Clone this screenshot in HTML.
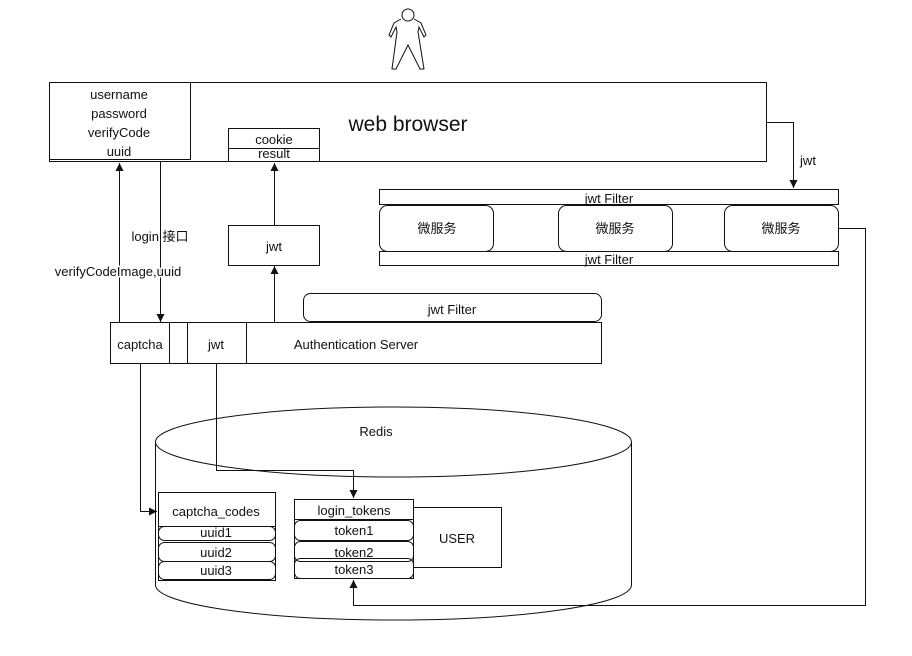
<!DOCTYPE html>
<html><head><meta charset="utf-8"><style>
body{margin:0;background:#fff;}
svg{display:block;}
text{font-family:"Liberation Sans","Noto Sans CJK SC",sans-serif;fill:#111;font-size:13px;}
</style></head><body>
<svg width="912" height="656" viewBox="0 0 912 656" xmlns="http://www.w3.org/2000/svg">
<defs>
<marker id="ar" viewBox="0 0 10 10" refX="10" refY="5" markerWidth="8" markerHeight="8" orient="auto" markerUnits="userSpaceOnUse"><path d="M0,0 L10,5 L0,10 z" fill="#111"/></marker></defs>
<g fill="none" stroke="#111" stroke-width="1">
<!-- person -->
<circle cx="408" cy="15" r="6"/>
<path d="M401,19 L394,23 L389,35 L391,37 L396,27 L397,32 L392,69 L396,69 L408,45 L420,69 L424,69 L418,32 L419,27 L424,37 L426,35 L421,23 L414,19"/>
<!-- browser -->
<rect x="49.5" y="82.5" width="717" height="79"/>
<rect x="49.5" y="82.5" width="141" height="77"/>
<rect x="228.5" y="128.5" width="91" height="33"/>
<line x1="228" y1="148.5" x2="320" y2="148.5"/>
<!-- arrows left -->
<line x1="119.5" y1="322" x2="119.5" y2="163" marker-end="url(#ar)"/>
<line x1="160.5" y1="162" x2="160.5" y2="322" marker-end="url(#ar)"/>
<rect x="228.5" y="225.5" width="91" height="40"/>
<line x1="274.5" y1="322" x2="274.5" y2="266" marker-end="url(#ar)"/>
<line x1="274.5" y1="225" x2="274.5" y2="163" marker-end="url(#ar)"/>
<!-- auth server -->
<rect x="303.5" y="293.5" width="298" height="28" rx="7"/>
<rect x="110.5" y="322.5" width="491" height="41"/>
<line x1="169.5" y1="322" x2="169.5" y2="364"/>
<line x1="187.5" y1="322" x2="187.5" y2="364"/>
<line x1="246.5" y1="322" x2="246.5" y2="364"/>
<!-- microservices -->
<rect x="379.5" y="189.5" width="459" height="15"/>
<rect x="379.5" y="251.5" width="459" height="14"/>
<rect x="379.5" y="205.5" width="114" height="46" rx="8"/>
<rect x="558.5" y="205.5" width="114" height="46" rx="8"/>
<rect x="724.5" y="205.5" width="114" height="46" rx="8"/>
<polyline points="767,122.5 793.5,122.5 793.5,188" marker-end="url(#ar)"/>
<polyline points="838,228.5 865.5,228.5 865.5,605.5 353.5,605.5 353.5,580" marker-end="url(#ar)"/>
<!-- redis -->
<path d="M155.5,442 L155.5,585 A238,35 0 0 0 631.5,585 L631.5,442"/>
<ellipse cx="393.5" cy="442" rx="238" ry="35"/>
<polyline points="140.5,364 140.5,511.5 157,511.5" marker-end="url(#ar)"/>
<polyline points="216.5,364 216.5,470.5 353.5,470.5 353.5,498" marker-end="url(#ar)"/>
<rect x="158.5" y="492.5" width="117" height="88" fill="#fff"/>
<line x1="158" y1="526.5" x2="275" y2="526.5"/>
<rect x="158.5" y="526.5" width="117" height="14" rx="6"/>
<rect x="158.5" y="542.5" width="117" height="19" rx="6"/>
<rect x="158.5" y="561.5" width="117" height="18" rx="6"/>
<rect x="413.5" y="507.5" width="88" height="60"/>
<rect x="294.5" y="499.5" width="119" height="79" fill="#fff"/>
<line x1="294" y1="519.5" x2="413" y2="519.5"/>
<rect x="294.5" y="520.5" width="119" height="20" rx="6"/>
<rect x="294.5" y="541.5" width="119" height="20" rx="6"/>
<rect x="294.5" y="558.5" width="119" height="20" rx="6"/>
</g>
<g text-anchor="middle">
<text x="119" y="99">username</text>
<text x="119" y="118">password</text>
<text x="119" y="137">verifyCode</text>
<text x="119" y="156">uuid</text>
<text x="408" y="131" style="font-size:21px">web browser</text>
<text x="274" y="144">cookie</text>
<text x="274" y="158">result</text>
<text x="160" y="241" style="paint-order:stroke" stroke="#fff" stroke-width="3">login 接口</text>
<text x="118" y="276" style="paint-order:stroke" stroke="#fff" stroke-width="3">verifyCodeImage,uuid</text>
<text x="274" y="251">jwt</text>
<text x="452" y="314">jwt Filter</text>
<text x="140" y="349">captcha</text>
<text x="216" y="349">jwt</text>
<text x="356" y="349">Authentication Server</text>
<text x="609" y="203">jwt Filter</text>
<text x="609" y="264">jwt Filter</text>
<text x="437" y="233">微服务</text>
<text x="615" y="233">微服务</text>
<text x="781" y="233">微服务</text>
<text x="808" y="165">jwt</text>
<text x="376" y="436">Redis</text>
<text x="216" y="516">captcha_codes</text>
<text x="216" y="537">uuid1</text>
<text x="216" y="557">uuid2</text>
<text x="216" y="575">uuid3</text>
<text x="354" y="515">login_tokens</text>
<text x="354" y="535">token1</text>
<text x="354" y="557">token2</text>
<text x="354" y="574">token3</text>
<text x="457" y="543">USER</text>
</g>
</svg>
</body></html>
